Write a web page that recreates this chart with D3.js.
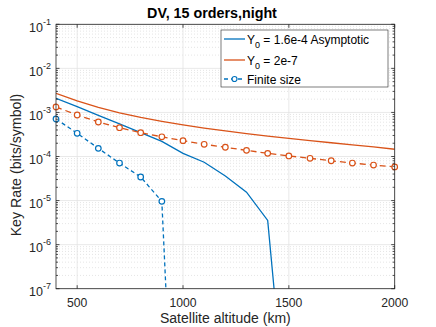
<!DOCTYPE html>
<html>
<head>
<meta charset="utf-8">
<script src="https://cdn.jsdelivr.net/npm/d3@7"></script>
<style>
  body { margin: 0; background: #fff; }
  svg { font-family: "Liberation Sans", Arial, sans-serif; }
</style>
</head>
<body>
<svg id="chart" width="436" height="327"></svg>
<script>
// altitudes (km)
var altFull = [400, 500, 600, 700, 800, 900, 1000, 1100, 1200, 1300, 1400, 1500, 1600, 1700, 1800, 1900, 2000]
var altBlue = [400, 500, 600, 700, 800, 900, 1000, 1100, 1200, 1300, 1400, 1500]
var altBlueFinite = [400, 500, 600, 700, 800, 900, 1000]

// Y0 = 1.6e-4 asymptotic
var blueAsym = [2.1e-3, 1.35e-3, 8.6e-4, 5.5e-4, 3.5e-4, 2.2e-4, 1.18e-4, 7.4e-5, 3.6e-5, 1.55e-5, 3.55e-6, 2.5e-11]
// Y0 = 2e-7 asymptotic
var orangeAsym = [2.72e-3, 1.82e-3, 1.3e-3, 9.8e-4, 7.7e-4, 6.3e-4, 5.2e-4, 4.4e-4, 3.8e-4, 3.3e-4, 2.9e-4, 2.58e-4, 2.3e-4, 2.05e-4, 1.84e-4, 1.65e-4, 1.46e-4]
// finite size
var blueFinite = [7.1e-4, 3.36e-4, 1.53e-4, 7.1e-5, 3.43e-5, 9.6e-6, 4e-16]
var orangeFinite = [1.33e-3, 8.75e-4, 6.07e-4, 4.5e-4, 3.47e-4, 2.8e-4, 2.29e-4, 1.89e-4, 1.62e-4, 1.38e-4, 1.18e-4, 1.03e-4, 9.1e-5, 8.0e-5, 7.1e-5, 6.4e-5, 5.8e-5]

var xTicks = [500, 1000, 1500, 2000]
var yExps = [-1, -2, -3, -4, -5, -6, -7]

var dimensions = {
    width: 436,
    height: 327,
    margin: { top: 24.3, right: 41.3, bottom: 38.3, left: 56 }
}
var plotW = dimensions.width - dimensions.margin.left - dimensions.margin.right
var plotH = dimensions.height - dimensions.margin.top - dimensions.margin.bottom

var blue = "#0072BD"
var orange = "#D95319"
var axisColor = "#262626"

var svg = d3.select("#chart")

var xScale = d3.scaleLinear()
               .domain([400, 2000])
               .range([0, plotW])
var yScale = d3.scaleLog()
               .domain([1e-7, 1e-1])
               .range([plotH, 0])

var g = svg.append("g")
           .attr("transform", "translate(" + dimensions.margin.left + "," + dimensions.margin.top + ")")

svg.append("defs").append("clipPath").attr("id", "clip")
   .append("rect").attr("width", plotW).attr("height", plotH)

// minor grid (log)
var minorVals = []
for (var e = -7; e < -1; e++) {
    for (var m = 2; m <= 9; m++) minorVals.push(m * Math.pow(10, e))
}
g.append("g").selectAll("line").data(minorVals).enter().append("line")
 .attr("x1", 0).attr("x2", plotW)
 .attr("y1", d => yScale(d)).attr("y2", d => yScale(d))
 .attr("stroke", "#d4d4d4").attr("stroke-width", 0.6).attr("stroke-dasharray", "1,2")

// major grid
g.append("g").selectAll("line").data(yExps).enter().append("line")
 .attr("x1", 0).attr("x2", plotW)
 .attr("y1", d => yScale(Math.pow(10, d))).attr("y2", d => yScale(Math.pow(10, d)))
 .attr("stroke", "#e3e3e3").attr("stroke-width", 0.8)
g.append("g").selectAll("line").data(xTicks).enter().append("line")
 .attr("x1", d => xScale(d)).attr("x2", d => xScale(d))
 .attr("y1", 0).attr("y2", plotH)
 .attr("stroke", "#e3e3e3").attr("stroke-width", 0.8)

// lines
var lineGen = d3.line()
                .x(d => xScale(d[0]))
                .y(d => yScale(d[1]))

var plot = g.append("g").attr("clip-path", "url(#clip)")

plot.append("path")
    .datum(altBlue.map((a, i) => [a, blueAsym[i]]))
    .attr("d", lineGen).attr("fill", "none")
    .attr("stroke", blue).attr("stroke-width", 1.3)
plot.append("path")
    .datum(altFull.map((a, i) => [a, orangeAsym[i]]))
    .attr("d", lineGen).attr("fill", "none")
    .attr("stroke", orange).attr("stroke-width", 1.3)
plot.append("path")
    .datum(altBlueFinite.map((a, i) => [a, blueFinite[i]]))
    .attr("d", lineGen).attr("fill", "none")
    .attr("stroke", blue).attr("stroke-width", 1.3).attr("stroke-dasharray", "4,3")
plot.append("path")
    .datum(altFull.map((a, i) => [a, orangeFinite[i]]))
    .attr("d", lineGen).attr("fill", "none")
    .attr("stroke", orange).attr("stroke-width", 1.3).attr("stroke-dasharray", "6,4")

// markers
var markers = g.append("g")
markers.selectAll(".mb").data(altBlueFinite.map((a, i) => [a, blueFinite[i]]).filter(d => d[1] >= 1e-7))
       .enter().append("circle")
       .attr("cx", d => xScale(d[0])).attr("cy", d => yScale(d[1])).attr("r", 2.8)
       .attr("fill", "white").attr("stroke", blue).attr("stroke-width", 1.2)
markers.selectAll(".mo").data(altFull.map((a, i) => [a, orangeFinite[i]]))
       .enter().append("circle")
       .attr("cx", d => xScale(d[0])).attr("cy", d => yScale(d[1])).attr("r", 2.8)
       .attr("fill", "white").attr("stroke", orange).attr("stroke-width", 1.2)

// axes box
g.append("rect").attr("width", plotW).attr("height", plotH)
 .attr("fill", "none").attr("stroke", axisColor).attr("stroke-width", 0.8)

// ticks (inward, all sides)
var ticks = g.append("g").attr("stroke", axisColor).attr("stroke-width", 0.8)
xTicks.forEach(function(t) {
    ticks.append("line").attr("x1", xScale(t)).attr("x2", xScale(t)).attr("y1", plotH).attr("y2", plotH - 3.5)
    ticks.append("line").attr("x1", xScale(t)).attr("x2", xScale(t)).attr("y1", 0).attr("y2", 3.5)
})
yExps.forEach(function(e) {
    var y = yScale(Math.pow(10, e))
    ticks.append("line").attr("x1", 0).attr("x2", 3.5).attr("y1", y).attr("y2", y)
    ticks.append("line").attr("x1", plotW).attr("x2", plotW - 3.5).attr("y1", y).attr("y2", y)
})
minorVals.forEach(function(v) {
    var y = yScale(v)
    ticks.append("line").attr("x1", 0).attr("x2", 2).attr("y1", y).attr("y2", y)
    ticks.append("line").attr("x1", plotW).attr("x2", plotW - 2).attr("y1", y).attr("y2", y)
})

// tick labels
g.append("g").selectAll("text").data(xTicks).enter().append("text")
 .attr("x", d => xScale(d)).attr("y", plotH + 18)
 .attr("text-anchor", "middle").attr("font-size", 12.2).attr("fill", axisColor)
 .text(d => d)

var yl = g.append("g").selectAll("text").data(yExps).enter().append("text")
          .attr("x", -5).attr("y", d => yScale(Math.pow(10, d)) + 7.5)
          .attr("text-anchor", "end").attr("font-size", 12.5).attr("fill", axisColor)
yl.append("tspan").text("10")
yl.append("tspan").attr("dy", -7).attr("font-size", 9).text(d => d)

// axis labels
svg.append("text")
   .attr("x", dimensions.margin.left + plotW / 2).attr("y", 323)
   .attr("text-anchor", "middle").attr("font-size", 14).attr("fill", axisColor)
   .text("Satellite altitude (km)")
svg.append("text")
   .attr("transform", "translate(20.5,165) rotate(-90)")
   .attr("text-anchor", "middle").attr("font-size", 14.2).attr("fill", axisColor)
   .text("Key Rate (bits/symbol)")

// title
svg.append("text")
   .attr("x", 212).attr("y", 17.5)
   .attr("text-anchor", "middle").attr("font-size", 14.3).attr("font-weight", "bold").attr("fill", "#000")
   .text("DV, 15 orders,night")

// legend
var legend = svg.append("g").attr("transform", "translate(221,30)")
legend.append("rect").attr("width", 167).attr("height", 57)
      .attr("fill", "white").attr("stroke", axisColor).attr("stroke-width", 0.6)

var legendItems = [
    { color: blue, dash: null, marker: false, label: "1.6e-4 Asymptotic", y0: true },
    { color: orange, dash: null, marker: false, label: "2e-7", y0: true },
    { color: blue, dash: "4,3", marker: true, label: "Finite size", y0: false }
]
var rowY = [9, 30, 49]
legendItems.forEach(function(item, i) {
    var row = legend.append("g").attr("transform", "translate(0," + rowY[i] + ")")
    row.append("line").attr("x1", 3).attr("x2", 24).attr("y1", 0).attr("y2", 0)
       .attr("stroke", item.color).attr("stroke-width", 1.3)
       .attr("stroke-dasharray", item.dash)
    if (item.marker) {
        row.append("circle").attr("cx", 13.5).attr("cy", 0).attr("r", 2.5)
           .attr("fill", "white").attr("stroke", item.color).attr("stroke-width", 1.2)
    }
    var t = row.append("text").attr("x", 26).attr("y", 4.5).attr("font-size", 12).attr("fill", "#000")
    if (item.y0) {
        t.append("tspan").text("Y")
        t.append("tspan").attr("dy", 4).attr("font-size", 9).text("0")
        t.append("tspan").attr("dy", -4).text(" = " + item.label)
    } else {
        t.text(item.label)
    }
})
</script>
</body>
</html>
